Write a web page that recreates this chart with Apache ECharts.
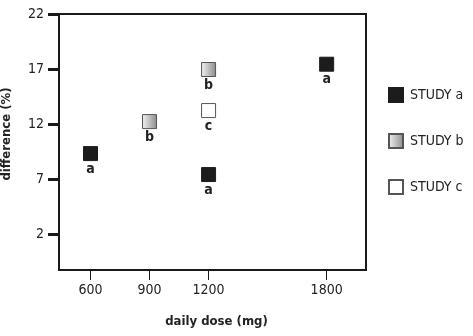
<!DOCTYPE html>
<html>
<head>
<meta charset="utf-8">
<script src="https://cdn.jsdelivr.net/npm/echarts@6/dist/echarts.min.js"></script>
<style>
  html, body { margin: 0; padding: 0; background: #fff; }
  #chart { width: 473px; height: 336px; }
</style>
</head>
<body>
<div id="chart"></div>
<script>
// Daily dose (mg) vs. difference (%) for three studies
const doseTicks = [600, 900, 1200, 1800];
const diffTicks = [2, 7, 12, 17, 22];

const studyA = [[600, 9.35], [1200, 7.45], [1800, 17.45]];
const studyB = [[900, 12.25], [1200, 16.97]];
const studyC = [[1200, 13.25]];

const seriesNames = ['STUDY a', 'STUDY b', 'STUDY c'];
const pointLabels = ['a', 'b', 'c'];

const FONT = '"Liberation Sans Narrow", "DejaVu Sans Condensed", "Liberation Sans", sans-serif';
const INK = '#222';

const styles = [
  { color: '#1c1c1c', borderColor: '#1c1c1c', borderWidth: 1, opacity: 1 },
  {
    color: {
      type: 'linear', x: 0, y: 0, x2: 1, y2: 0,
      colorStops: [{ offset: 0, color: '#f4f4f4' }, { offset: 1, color: '#8a8a8a' }]
    },
    borderColor: '#555', borderWidth: 1, opacity: 1
  },
  { color: '#ffffff', borderColor: '#555', borderWidth: 1, opacity: 1 }
];

const chart = echarts.init(document.getElementById('chart'), null, { renderer: 'canvas' });

const makeSeries = (name, data, i) => ({
  name: name,
  type: 'scatter',
  data: data,
  symbol: 'rect',
  symbolSize: 14,
  itemStyle: styles[i],
  label: {
    show: true,
    position: 'bottom',
    distance: 1,
    formatter: pointLabels[i],
    fontFamily: FONT,
    fontWeight: 'bold',
    fontSize: 14,
    color: INK
  },
  emphasis: { disabled: true }
});

chart.setOption({
  animation: false,
  backgroundColor: '#fff',
  grid: {
    left: 59, top: 14, right: 107, bottom: 66,
    outerBoundsMode: 'none',
    containLabel: false,
    show: true, borderColor: '#1a1a1a', borderWidth: 2, backgroundColor: 'transparent'
  },
  legend: {
    orient: 'vertical',
    left: 383,
    top: 82,
    itemWidth: 14,
    itemHeight: 14,
    itemGap: 30,
    icon: 'rect',
    data: seriesNames,
    textStyle: { fontFamily: FONT, fontSize: 14, color: INK, padding: [0, 0, 0, 2] },
    selectedMode: false
  },
  xAxis: {
    type: 'value',
    min: 440,
    max: 2000,
    name: 'daily dose (mg)',
    nameLocation: 'middle',
    nameGap: 45,
    nameTextStyle: { fontFamily: FONT, fontWeight: 'bold', fontSize: 13, color: INK, padding: [0, 0, 0, 8] },
    axisLine: { show: true, onZero: false, lineStyle: { color: '#1a1a1a', width: 2 } },
    axisTick: { show: true, length: 10, customValues: doseTicks, lineStyle: { color: '#1a1a1a', width: 1 } },
    axisLabel: {
      customValues: doseTicks, margin: 13, fontFamily: FONT, fontSize: 14, color: INK,
      formatter: v => String(v)
    },
    splitLine: { show: false }
  },
  yAxis: {
    type: 'value',
    min: -1.2,
    max: 22,
    name: 'difference (%)',
    nameLocation: 'middle',
    nameRotate: 90,
    nameGap: 46,
    nameTextStyle: { fontFamily: FONT, fontWeight: 'bold', fontSize: 13, color: INK, padding: [0, 0, 0, 16] },
    axisLine: { show: true, onZero: false, lineStyle: { color: '#1a1a1a', width: 2 } },
    axisTick: { show: true, length: 11, customValues: diffTicks, lineStyle: { color: '#1a1a1a', width: 3 } },
    axisLabel: {
      customValues: diffTicks, margin: 15, fontFamily: FONT, fontSize: 14, color: INK,
      formatter: v => String(v)
    },
    splitLine: { show: false }
  },
  series: [
    makeSeries(seriesNames[0], studyA, 0),
    makeSeries(seriesNames[1], studyB, 1),
    makeSeries(seriesNames[2], studyC, 2)
  ]
});
</script>
</body>
</html>
